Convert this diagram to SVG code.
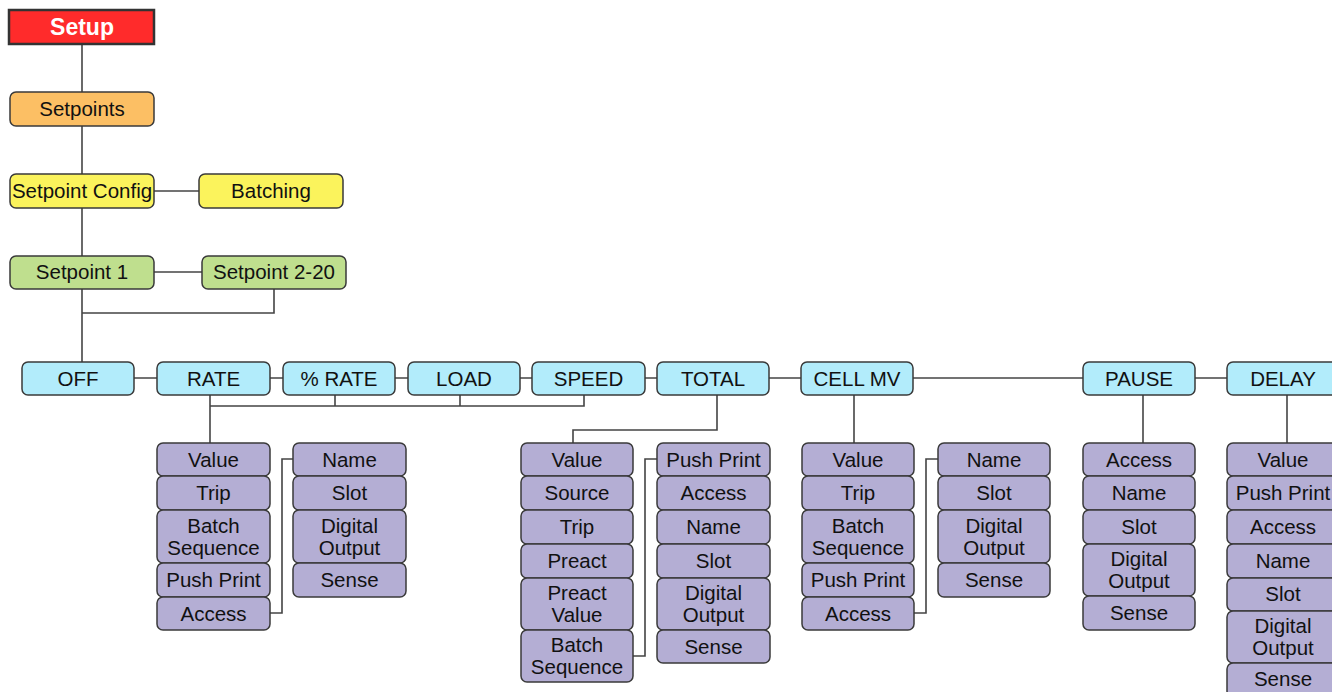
<svg xmlns="http://www.w3.org/2000/svg" width="1332" height="692" viewBox="0 0 1332 692">
<style>
text{font-family:"Liberation Sans",Arial,sans-serif;font-size:20.5px;fill:#111;text-anchor:middle}
rect{stroke:#3a3a3a;stroke-width:1.5}
.or{fill:#fcbf64}.ye{fill:#fbf35c}.gr{fill:#bfdf8e}.bl{fill:#b2ecfb}.pu{fill:#b4aed4}
.con line,.con polyline{stroke:#444;stroke-width:1.6;fill:none}
</style>
<rect width="1332" height="692" fill="#fff" style="stroke:none"/>
<g class="con">
<line x1="82" y1="44" x2="82" y2="92"/>
<line x1="82" y1="126" x2="82" y2="174"/>
<line x1="82" y1="208" x2="82" y2="256"/>
<line x1="154" y1="191" x2="199" y2="191"/>
<line x1="154" y1="272" x2="202" y2="272"/>
<line x1="82" y1="289" x2="82" y2="362"/>
<polyline points="274,289 274,313 82,313"/>
<line x1="134" y1="378" x2="1227" y2="378"/>
<line x1="210" y1="395" x2="210" y2="443"/>
<polyline points="210,406 584,406 584,395"/>
<line x1="335" y1="395" x2="335" y2="406"/>
<line x1="460" y1="395" x2="460" y2="406"/>
<polyline points="717,395 717,430 573,430 573,443"/>
<line x1="854" y1="395" x2="854" y2="443"/>
<line x1="1143" y1="395" x2="1143" y2="443"/>
<line x1="1287" y1="395" x2="1287" y2="443"/>
<polyline points="270,613 282,613 282,459 293,459"/>
<polyline points="633,656 645,656 645,459 657,459"/>
<polyline points="914,613 926,613 926,459 938,459"/>
</g>
<g id="setup"><rect x="9" y="10" width="145" height="34" fill="#ff2b2b" style="stroke:#333;stroke-width:2.5"/><text x="82" y="35" style="fill:#fff;font-weight:bold;font-size:23px">Setup</text></g>
<g id="setpoints"><rect class="or" x="10" y="92" width="144" height="34" rx="6"/><text x="82" y="116">Setpoints</text></g>
<g id="setpoint-config"><rect class="ye" x="10" y="174" width="144" height="34" rx="6"/><text x="82" y="198">Setpoint Config</text></g>
<g id="batching"><rect class="ye" x="199" y="174" width="144" height="34" rx="6"/><text x="271" y="198">Batching</text></g>
<g id="setpoint1"><rect class="gr" x="10" y="256" width="144" height="33" rx="6"/><text x="82" y="278.5">Setpoint 1</text></g>
<g id="setpoint2-20"><rect class="gr" x="202" y="256" width="144" height="33" rx="6"/><text x="274" y="278.5">Setpoint 2-20</text></g>
<g id="off"><rect class="bl" x="22" y="362" width="112" height="33" rx="6"/><text x="78" y="386">OFF</text></g>
<g id="rate"><rect class="bl" x="157" y="362" width="113" height="33" rx="6"/><text x="213.5" y="386">RATE</text></g>
<g id="pct-rate"><rect class="bl" x="283" y="362" width="112" height="33" rx="6"/><text x="339" y="386">% RATE</text></g>
<g id="load"><rect class="bl" x="408" y="362" width="112" height="33" rx="6"/><text x="464" y="386">LOAD</text></g>
<g id="speed"><rect class="bl" x="532" y="362" width="113" height="33" rx="6"/><text x="588.5" y="386">SPEED</text></g>
<g id="total"><rect class="bl" x="657" y="362" width="112" height="33" rx="6"/><text x="713" y="386">TOTAL</text></g>
<g id="cellmv"><rect class="bl" x="801" y="362" width="112" height="33" rx="6"/><text x="857" y="386">CELL MV</text></g>
<g id="pause"><rect class="bl" x="1083" y="362" width="112" height="33" rx="6"/><text x="1139" y="386">PAUSE</text></g>
<g id="delay"><rect class="bl" x="1227" y="362" width="112" height="33" rx="6"/><text x="1283" y="386">DELAY</text></g>

<g id="rate-list">
<rect class="pu" x="157" y="443" width="113" height="33" rx="6"/><text x="213.5" y="466.5">Value</text>
<rect class="pu" x="157" y="476" width="113" height="34" rx="6"/><text x="213.5" y="500">Trip</text>
<rect class="pu" x="157" y="510" width="113" height="53" rx="6"/><text x="213.5" y="533">Batch</text><text x="213.5" y="555">Sequence</text>
<rect class="pu" x="157" y="563" width="113" height="34" rx="6"/><text x="213.5" y="587">Push Print</text>
<rect class="pu" x="157" y="597" width="113" height="33" rx="6"/><text x="213.5" y="620.5">Access</text>
</g>
<g id="rate-list2">
<rect class="pu" x="293" y="443" width="113" height="33" rx="6"/><text x="349.5" y="466.5">Name</text>
<rect class="pu" x="293" y="476" width="113" height="34" rx="6"/><text x="349.5" y="500">Slot</text>
<rect class="pu" x="293" y="510" width="113" height="53" rx="6"/><text x="349.5" y="533">Digital</text><text x="349.5" y="555">Output</text>
<rect class="pu" x="293" y="563" width="113" height="34" rx="6"/><text x="349.5" y="587">Sense</text>
</g>
<g id="total-list">
<rect class="pu" x="521" y="443" width="112" height="33" rx="6"/><text x="577" y="466.5">Value</text>
<rect class="pu" x="521" y="476" width="112" height="34" rx="6"/><text x="577" y="500">Source</text>
<rect class="pu" x="521" y="510" width="112" height="34" rx="6"/><text x="577" y="534">Trip</text>
<rect class="pu" x="521" y="544" width="112" height="34" rx="6"/><text x="577" y="568">Preact</text>
<rect class="pu" x="521" y="578" width="112" height="52" rx="6"/><text x="577" y="600">Preact</text><text x="577" y="622">Value</text>
<rect class="pu" x="521" y="630" width="112" height="52" rx="6"/><text x="577" y="652">Batch</text><text x="577" y="674">Sequence</text>
</g>
<g id="total-list2">
<rect class="pu" x="657" y="443" width="113" height="33" rx="6"/><text x="713.5" y="466.5">Push Print</text>
<rect class="pu" x="657" y="476" width="113" height="34" rx="6"/><text x="713.5" y="500">Access</text>
<rect class="pu" x="657" y="510" width="113" height="34" rx="6"/><text x="713.5" y="534">Name</text>
<rect class="pu" x="657" y="544" width="113" height="34" rx="6"/><text x="713.5" y="568">Slot</text>
<rect class="pu" x="657" y="578" width="113" height="52" rx="6"/><text x="713.5" y="600">Digital</text><text x="713.5" y="622">Output</text>
<rect class="pu" x="657" y="630" width="113" height="33" rx="6"/><text x="713.5" y="654">Sense</text>
</g>
<g id="cellmv-list">
<rect class="pu" x="802" y="443" width="112" height="33" rx="6"/><text x="858" y="466.5">Value</text>
<rect class="pu" x="802" y="476" width="112" height="34" rx="6"/><text x="858" y="500">Trip</text>
<rect class="pu" x="802" y="510" width="112" height="53" rx="6"/><text x="858" y="533">Batch</text><text x="858" y="555">Sequence</text>
<rect class="pu" x="802" y="563" width="112" height="34" rx="6"/><text x="858" y="587">Push Print</text>
<rect class="pu" x="802" y="597" width="112" height="33" rx="6"/><text x="858" y="620.5">Access</text>
</g>
<g id="cellmv-list2">
<rect class="pu" x="938" y="443" width="112" height="33" rx="6"/><text x="994" y="466.5">Name</text>
<rect class="pu" x="938" y="476" width="112" height="34" rx="6"/><text x="994" y="500">Slot</text>
<rect class="pu" x="938" y="510" width="112" height="53" rx="6"/><text x="994" y="533">Digital</text><text x="994" y="555">Output</text>
<rect class="pu" x="938" y="563" width="112" height="34" rx="6"/><text x="994" y="587">Sense</text>
</g>
<g id="pause-list">
<rect class="pu" x="1083" y="443" width="112" height="33" rx="6"/><text x="1139" y="466.5">Access</text>
<rect class="pu" x="1083" y="476" width="112" height="34" rx="6"/><text x="1139" y="500">Name</text>
<rect class="pu" x="1083" y="510" width="112" height="34" rx="6"/><text x="1139" y="534">Slot</text>
<rect class="pu" x="1083" y="544" width="112" height="52" rx="6"/><text x="1139" y="566">Digital</text><text x="1139" y="588">Output</text>
<rect class="pu" x="1083" y="596" width="112" height="34" rx="6"/><text x="1139" y="620">Sense</text>
</g>
<g id="delay-list">
<rect class="pu" x="1227" y="443" width="112" height="33" rx="6"/><text x="1283" y="466.5">Value</text>
<rect class="pu" x="1227" y="476" width="112" height="34" rx="6"/><text x="1283" y="500">Push Print</text>
<rect class="pu" x="1227" y="510" width="112" height="34" rx="6"/><text x="1283" y="534">Access</text>
<rect class="pu" x="1227" y="544" width="112" height="34" rx="6"/><text x="1283" y="568">Name</text>
<rect class="pu" x="1227" y="578" width="112" height="33" rx="6"/><text x="1283" y="601">Slot</text>
<rect class="pu" x="1227" y="611" width="112" height="52" rx="6"/><text x="1283" y="633">Digital</text><text x="1283" y="655">Output</text>
<rect class="pu" x="1227" y="663" width="112" height="34" rx="6"/><text x="1283" y="686">Sense</text>
</g>
</svg>
